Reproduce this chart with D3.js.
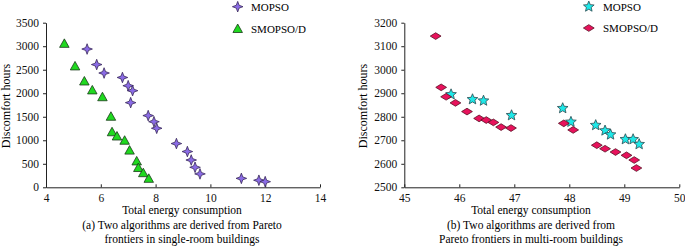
<!DOCTYPE html>
<html>
<head>
<meta charset="utf-8">
<script src="https://cdn.jsdelivr.net/npm/d3@7/dist/d3.min.js"></script>
<style>
  body { margin: 0; background: #fff; }
  svg { display: block; font-family: "Liberation Serif", "Times New Roman", serif; }
  .axis path, .axis line { stroke: #222; }
  .axis text { font-family: "Liberation Serif", serif; font-size: 11.5px; fill: #111; }
</style>
</head>
<body>
<script>
// (a) single-room buildings: [energy, discomfort]
const singleMopso = [
  [5.50, 2940], [5.85, 2610], [6.12, 2430], [6.79, 2335], [7.00, 2160],
  [7.16, 2055], [7.09, 1800], [7.73, 1525], [7.94, 1395], [8.04, 1255],
  [8.76, 930], [9.16, 760], [9.30, 580], [9.44, 425], [9.62, 285],
  [11.13, 190], [11.77, 150], [12.00, 120]
];
const singleSmopso = [
  [4.67, 3050], [5.06, 2570], [5.40, 2250], [5.69, 2060], [6.06, 1915],
  [6.37, 1500], [6.41, 1170], [6.59, 1080], [6.87, 990], [7.05, 780],
  [7.31, 550], [7.37, 410], [7.55, 300], [7.75, 180]
];

// (b) multi-room buildings
const multiMopso = [
  [45.85, 2895], [46.24, 2874], [46.44, 2868], [46.95, 2806], [47.88, 2836],
  [48.03, 2778], [48.48, 2764], [48.65, 2741], [48.75, 2724], [49.02, 2704],
  [49.16, 2704], [49.27, 2683]
];
const multiSmopso = [
  [45.57, 3143], [45.67, 2925], [45.76, 2885], [45.93, 2859], [46.14, 2822],
  [46.36, 2793], [46.49, 2786], [46.62, 2776], [46.76, 2756], [46.94, 2752],
  [47.90, 2772], [48.07, 2744], [48.50, 2679], [48.65, 2664], [48.84, 2650],
  [49.04, 2636], [49.18, 2616], [49.22, 2582]
];

const seriesNames = ["MOPSO", "SMOPSO/D"];
const xLabel = "Total energy consumption";
const yLabel = "Discomfort hours";
const captionA = ["(a) Two algorithms are derived from Pareto", "frontiers in single-room buildings"];
const captionB = ["(b) Two algorithms are derived from", "Pareto frontiers in multi-room buildings"];

const svg = d3.select("body").append("svg")
  .attr("width", 685)
  .attr("height", 249);

// marker shapes
function star4(r) {
  const ri = r * 0.38;
  let p = [];
  for (let i = 0; i < 8; i++) {
    const a = -Math.PI / 2 + i * Math.PI / 4;
    const rr = i % 2 === 0 ? r : ri;
    p.push([rr * Math.cos(a), rr * Math.sin(a)]);
  }
  return "M" + p.join("L") + "Z";
}
function star5(r) {
  const ri = r * 0.45;
  let p = [];
  for (let i = 0; i < 10; i++) {
    const a = -Math.PI / 2 + i * Math.PI / 5;
    const rr = i % 2 === 0 ? r : ri;
    p.push([rr * Math.cos(a), rr * Math.sin(a)]);
  }
  return "M" + p.join("L") + "Z";
}
function triangle(r) {
  return `M0,${-r}L${r * 0.95},${r * 0.7}L${-r * 0.95},${r * 0.7}Z`;
}
function diamond(r) {
  return `M${-r},0L0,${-r * 0.62}L${r},0L0,${r * 0.62}Z`;
}

const markers = {
  purpleStar: { d: star4(5.3), fill: "#8a6be6", stroke: "#3a2a5a" },
  greenTri: { d: triangle(5), fill: "#1fd91f", stroke: "#1a3a1a" },
  cyanStar: { d: star5(5.6), fill: "#1ee8e8", stroke: "#2a4a50" },
  redDiamond: { d: diamond(5.4), fill: "#e8125c", stroke: "#5a1025" }
};

function drawPanel(opt) {
  const x = d3.scaleLinear().domain(opt.xDomain).range(opt.xRange);
  const y = d3.scaleLinear().domain(opt.yDomain).range([187.3, 22.7]);

  svg.append("g")
    .attr("class", "axis")
    .attr("transform", "translate(0,187.3)")
    .call(d3.axisBottom(x).tickValues(opt.xTicks).tickFormat(d3.format("d"))
      .tickSizeInner(-3).tickSizeOuter(0).tickPadding(7));

  svg.append("g")
    .attr("class", "axis")
    .attr("transform", `translate(${opt.xRange[0]},0)`)
    .call(d3.axisLeft(y).tickValues(opt.yTicks).tickFormat(d3.format("d"))
      .tickSizeInner(3).tickSizeOuter(0).tickPadding(4));

  // series
  opt.series.forEach(s => {
    const m = markers[s.marker];
    svg.append("g").selectAll("path")
      .data(s.data)
      .join("path")
      .attr("transform", d => `translate(${x(d[0])},${y(d[1])})`)
      .attr("d", m.d)
      .attr("fill", m.fill)
      .attr("stroke", m.stroke)
      .attr("stroke-width", 0.8);
  });

  // legend
  opt.series.forEach((s, i) => {
    const m = markers[s.marker];
    const ly = opt.legend.y[i];
    svg.append("path")
      .attr("transform", `translate(${opt.legend.mx},${ly})`)
      .attr("d", m.d)
      .attr("fill", m.fill)
      .attr("stroke", m.stroke)
      .attr("stroke-width", 0.8);
    svg.append("text")
      .attr("x", opt.legend.tx)
      .attr("y", ly)
      .attr("dy", "0.35em")
      .attr("font-size", 11)
      .text(s.name);
  });

  // axis titles
  svg.append("text")
    .attr("transform", `translate(${opt.yTitleX},106) rotate(-90)`)
    .attr("text-anchor", "middle")
    .attr("dy", "0.35em")
    .attr("font-size", 12)
    .text(yLabel);

  svg.append("text")
    .attr("x", opt.captionX)
    .attr("y", 213.5)
    .attr("text-anchor", "middle")
    .attr("font-size", 11.5)
    .text(xLabel);

  opt.caption.forEach((line, i) => {
    svg.append("text")
      .attr("x", opt.captionX)
      .attr("y", 229 + i * 14)
      .attr("text-anchor", "middle")
      .attr("font-size", 11.5)
      .text(line);
  });
}

drawPanel({
  xDomain: [4, 14], xRange: [46, 320],
  yDomain: [0, 3500],
  xTicks: [4, 6, 8, 10, 12, 14],
  yTicks: d3.range(0, 3501, 500),
  series: [
    { name: seriesNames[0], data: singleMopso, marker: "purpleStar" },
    { name: seriesNames[1], data: singleSmopso, marker: "greenTri" }
  ],
  legend: { mx: 237.7, tx: 251, y: [6.7, 29] },
  yTitleX: 6,
  captionX: 182,
  caption: captionA
});

drawPanel({
  xDomain: [45, 50], xRange: [404.3, 679.3],
  yDomain: [2500, 3200],
  xTicks: [45, 46, 47, 48, 49, 50],
  yTicks: d3.range(2500, 3201, 100),
  series: [
    { name: seriesNames[0], data: multiMopso, marker: "cyanStar" },
    { name: seriesNames[1], data: multiSmopso, marker: "redDiamond" }
  ],
  legend: { mx: 588.8, tx: 603, y: [6.7, 28] },
  yTitleX: 362.5,
  captionX: 531,
  caption: captionB
});
</script>
</body>
</html>
